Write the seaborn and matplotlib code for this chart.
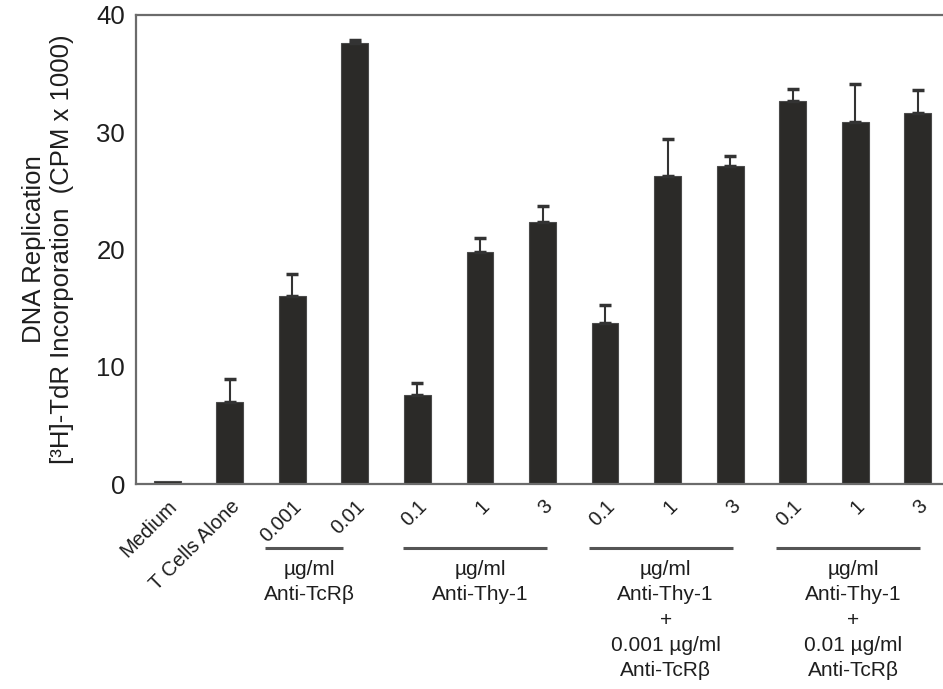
import matplotlib
matplotlib.use("Agg")
import matplotlib.pyplot as plt
import matplotlib.transforms as mtransforms
import seaborn as sns
import numpy as np

categories = ["Medium", "T Cells Alone", "TcR 0.001", "TcR 0.01",
              "Thy 0.1", "Thy 1", "Thy 3",
              "Thy+TcR001 0.1", "Thy+TcR001 1", "Thy+TcR001 3",
              "Thy+TcR01 0.1", "Thy+TcR01 1", "Thy+TcR01 3"]
tick_labels = ["Medium", "T Cells Alone", "0.001", "0.01",
               "0.1", "1", "3", "0.1", "1", "3", "0.1", "1", "3"]
values = [0.25, 7.0, 16.0, 37.6, 7.6, 19.8, 22.35, 13.75, 26.25, 27.1, 32.7, 30.9, 31.6]
errors = [0.0, 1.95, 1.9, 0.25, 1.05, 1.2, 1.35, 1.5, 3.15, 0.85, 1.0, 3.2, 2.0]
group_labels = ["µg/ml\nAnti-TcRβ",
                "µg/ml\nAnti-Thy-1",
                "µg/ml\nAnti-Thy-1\n+\n0.001 µg/ml\nAnti-TcRβ",
                "µg/ml\nAnti-Thy-1\n+\n0.01 µg/ml\nAnti-TcRβ"]
group_spans = [(2, 3), (4, 6), (7, 9), (10, 12)]

sns.set_theme(style="white")
plt.rcParams['font.family'] = ['Liberation Sans', 'DejaVu Sans']

fig = plt.figure(figsize=(9.43, 6.89), dpi=100)
W, H = 943, 689
ax = fig.add_axes([136 / W, 1 - 484 / H, (949 - 136) / W, (484 - 15) / H])

bar_color = "#2b2a28"
sns.barplot(x=categories, y=values, color=bar_color, width=0.43, saturation=1,
            edgecolor="#4a4a4a", linewidth=0.8, ax=ax)

idx = [i for i, e in enumerate(errors) if e > 0]
ax.errorbar(x=idx, y=[values[i] for i in idx],
            yerr=[np.zeros(len(idx)), [errors[i] for i in idx]],
            fmt="none", ecolor="#333333", elinewidth=1.5, capsize=4.5, capthick=2.5,
            zorder=1)

ax.set_xlim(-0.5, len(categories) - 0.5)
ax.set_ylim(0, 40)
ax.set_yticks([0, 10, 20, 30, 40])
ax.tick_params(axis="y", length=0, labelsize=18.5, pad=8, labelcolor="#1e1e1e")

ax.set_xticks(range(len(categories)))
ax.set_xticklabels(tick_labels, rotation=45, ha="right", rotation_mode="anchor",
                   fontsize=14.5, color="#1e1e1e")
ax.tick_params(axis="x", which="major", length=0, pad=9)
ax.set_xticks(np.arange(-0.5, len(categories), 1.0), minor=True)
ax.tick_params(axis="x", which="minor", length=3, width=1, color="#777777", direction="out")

for s in ["left", "bottom", "top"]:
    ax.spines[s].set_color("#6b6b6b")
    ax.spines[s].set_linewidth(1.6)
ax.spines["right"].set_visible(False)

ax.set_xlabel("")
ax.set_ylabel("DNA Replication\n[³H]-TdR Incorporation  (CPM x 1000)",
              fontsize=18.5, color="#1e1e1e", labelpad=16, linespacing=1.2)

trans = mtransforms.blended_transform_factory(ax.transData, ax.transAxes)
line_y = (484 - 548) / 469
text_y = (484 - 560) / 469
line_extent = [(1.57, 2.81), (3.77, 6.07), (6.74, 9.04), (9.74, 12.03)]
for (a, b), (x0, x1), lab in zip(group_spans, line_extent, group_labels):
    ax.plot([x0, x1], [line_y, line_y], transform=trans, color="#555555",
            lw=2.2, clip_on=False, solid_capstyle="butt")
    ax.text((x0 + x1) / 2 + 0.08, text_y, lab, transform=trans, ha="center", va="top",
            fontsize=15, color="#1e1e1e", linespacing=1.42)

fig.savefig("out.png", dpi=100)
